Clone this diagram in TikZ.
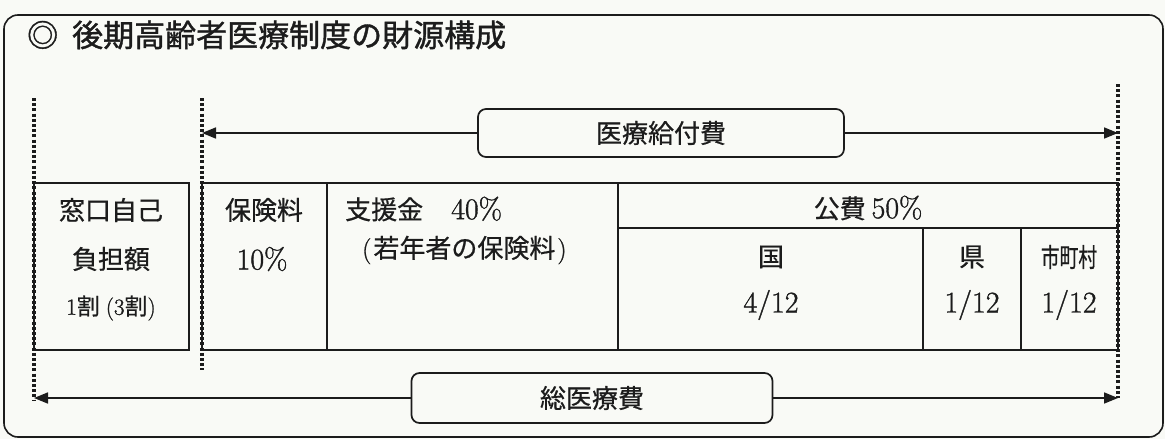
\documentclass[tikz,border=0pt]{standalone}
\usepackage{fontspec}
\newfontfamily\jp[FakeBold=0.6]{Noto Sans CJK JP}
\newfontfamily\jpt[FakeBold=1.2]{Noto Sans CJK JP}
\newfontfamily\numf[FakeBold=1.2]{Latin Modern Roman}
\usetikzlibrary{arrows.meta}
\definecolor{bg}{RGB}{249,250,246}
\definecolor{ink}{RGB}{28,28,28}
\tikzset{
  frame/.style={draw=ink, line width=1.6pt, rounded corners=14pt},
  tbl/.style={draw=ink, line width=1.9pt},
  dotln/.style={draw=ink, line width=3.4pt, dash pattern=on 3pt off 2.2pt},
  lbl/.style={inner sep=0pt, text=ink, font=\jp\fontsize{26}{30}\selectfont},
  num/.style={inner sep=0pt, text=ink, font=\numf\fontsize{30}{34}\selectfont},
  tag/.style={draw=ink, line width=1.7pt, rounded corners=8pt, inner sep=0pt,
    text=ink, font=\jp\fontsize{26}{30}\selectfont},
  arr/.style={draw=ink, line width=1.7pt, -{Triangle[length=14pt,width=11pt]}},
}
\begin{document}
\begin{tikzpicture}[x=1pt,y=-1pt]
\useasboundingbox (0,0) rectangle (1165,439);
\fill[bg] (0,0) rectangle (1165,439);
% outer frame
\draw[frame] (4,15) rectangle (1163,437);
% title
\node[inner sep=0pt, anchor=west, text=ink, font=\jpt\fontsize{31}{36}\selectfont] (title) at (27,35) {◎\hspace{14pt}後期高齢者医療制度の財源構成};
% table
\draw[tbl] (34,183) rectangle (189,350);
\draw[tbl] (202,183) rectangle (1118,350);
\draw[tbl] (327,183) -- (327,350);
\draw[tbl] (618,183) -- (618,350);
\draw[tbl] (618,228) -- (1118,228);
\draw[tbl] (923,228) -- (923,350);
\draw[tbl] (1021,228) -- (1021,350);
% dotted guide lines
\coordinate (d1t) at (34,98);
\coordinate (d1b) at (34,400);
\coordinate (d2t) at (202,98);
\coordinate (d2b) at (202,370);
\coordinate (d3t) at (1118,84);
\coordinate (d3b) at (1118,398);
\draw[dotln] (d1t) -- (d1b);
\draw[dotln] (d2t) -- (d2b);
\draw[dotln] (d3t) -- (d3b);
% top label and arrows
\node[tag, minimum width=366pt, minimum height=48pt] (kyufu) at (661,133) {医療給付費};
\coordinate (kl) at (202,133);
\coordinate (kr) at (1118,133);
\draw[arr] (kyufu.west) -- (kl);
\draw[arr] (kyufu.east) -- (kr);
% bottom label and arrows
\node[tag, minimum width=361pt, minimum height=50pt] (sou) at (592,398) {総医療費};
\coordinate (sl) at (34,398);
\coordinate (sr) at (1118,398);
\draw[arr] (sou.west) -- (sl);
\draw[arr] (sou.east) -- (sr);
% cell texts
\node[lbl] (m1) at (111,210) {窓口自己};
\node[lbl] (m2) at (111,259) {負担額};
\node[lbl, font=\jp\fontsize{23}{28}\selectfont] (m3) at (111,308) {{\numf 1}割\hspace{6pt}{\numf (3}割{\numf )}};
\node[lbl] (h1) at (264,210) {保険料};
\node[num] (h2) at (262,259) {10\%};
\node[lbl, anchor=west] (s1) at (345,209) {支援金\hspace{28pt}{\numf\fontsize{30}{34}\selectfont 40\%}};
\node[lbl, anchor=west] (s2) at (362,250) {{\numf (}\hspace{2pt}若年者の保険料\hspace{2pt}{\numf )}};
\node[lbl] (k0) at (868,208) {公費 {\numf\fontsize{30}{34}\selectfont 50\%}};
\node[lbl] (kuni) at (771,257) {国};
\node[num] (kuni2) at (771,305) {4/12};
\node[lbl] (ken) at (972,257) {県};
\node[num] (ken2) at (972,305) {1/12};
\node[lbl] (shi) at (1069,257) {\scalebox{0.72}[1]{市町村}};
\node[num] (shi2) at (1069,305) {1/12};
\end{tikzpicture}
\end{document}
